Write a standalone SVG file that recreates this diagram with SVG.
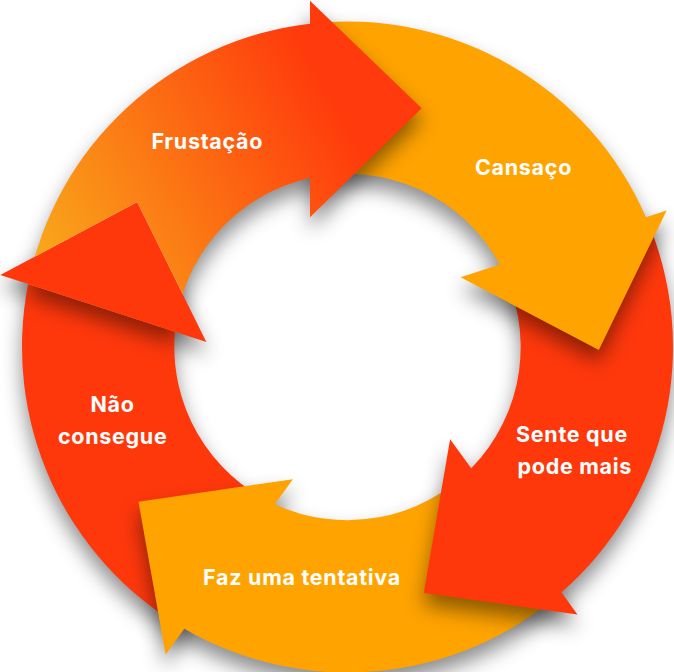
<svg xmlns="http://www.w3.org/2000/svg" width="674" height="672" viewBox="0 0 674 672">
<defs>
<style>
.lbl{font-family:Inter,"Liberation Sans",sans-serif;font-weight:700;font-size:21.5px;letter-spacing:0.7px;fill:#ffffff;text-anchor:middle}
.org{fill:#FFA300}
.red{fill:#FF380C}
.arrow{filter:url(#sh)}
</style>
<filter id="sh" x="-15%" y="-15%" width="130%" height="140%" color-interpolation-filters="sRGB">
<feDropShadow dx="0" dy="12" stdDeviation="10" flood-color="#000000" flood-opacity="0.45"/>
</filter>
<linearGradient id="gf" gradientUnits="userSpaceOnUse" x1="40" y1="250" x2="330" y2="90">
<stop offset="0" stop-color="#F9A61A"/>
<stop offset="1" stop-color="#FF3A0C"/>
</linearGradient>
<clipPath id="cutNao">
<path clip-rule="evenodd" d="M-60 -60H734V732H-60Z M0.34 275.09 L137.19 202.11 L206.34 342.02Z"/>
</clipPath>
</defs>
<rect width="674" height="672" fill="#ffffff"/>
<g id="connectors"></g>
<g id="node-nao-consegue">
<path class="arrow red" d="M184.31 628.64 A325.5 325.5 0 0 1 28.13 284.12 L0.34 275.09 L137.19 202.11 L206.34 342.02 L174.97 331.83 A173.2 173.2 0 0 0 274.74 504.17 Z"/>
<text class="lbl" x="112.5" y="411.7">Não</text>
<text class="lbl" x="112.7" y="444.3">consegue</text>
</g>
<g id="node-faz-uma-tentativa">
<path class="arrow org" d="M561.39 592.36 A325.5 325.5 0 0 1 184.31 628.64 L165.61 654.38 L138.48 501.68 L292.92 479.15 L274.74 504.17 A173.2 173.2 0 0 0 471.2 468.23 Z"/>
<text class="lbl" x="302" y="585">Faz uma tentativa</text>
</g>
<g id="node-sente-que-pode-mais">
<path class="arrow red" d="M645.97 217.14 A325.5 325.5 0 0 1 561.39 592.36 L577.41 614.41 L423.8 593.02 L450.09 439.18 L471.2 468.23 A173.2 173.2 0 0 0 499.85 264.61 Z"/>
<text class="lbl" x="572" y="442">Sente que</text>
<text class="lbl" x="574.8" y="474.3">pode mais</text>
</g>
<g id="node-cansaco">
<path class="arrow org" d="M310 23.67 A325.5 325.5 0 0 1 645.97 217.14 L666.65 210.42 L598.83 349.9 L460.65 277.35 L499.85 264.61 A173.2 173.2 0 0 0 310 177.91 Z"/>
<text class="lbl" x="523.5" y="174.5">Cansaço</text>
</g>
<g id="node-frustacao">
<g clip-path="url(#cutNao)">
<path class="arrow" fill="url(#gf)" d="M28.13 284.12 A325.5 325.5 0 0 1 310 23.67 L310 0.7 L421.7 108.3 L310 217.3 L310 177.91 A173.2 173.2 0 0 0 174.97 331.83 Z"/>
</g>
<text class="lbl" x="207.3" y="149">Frustação</text>
</g>
</svg>
